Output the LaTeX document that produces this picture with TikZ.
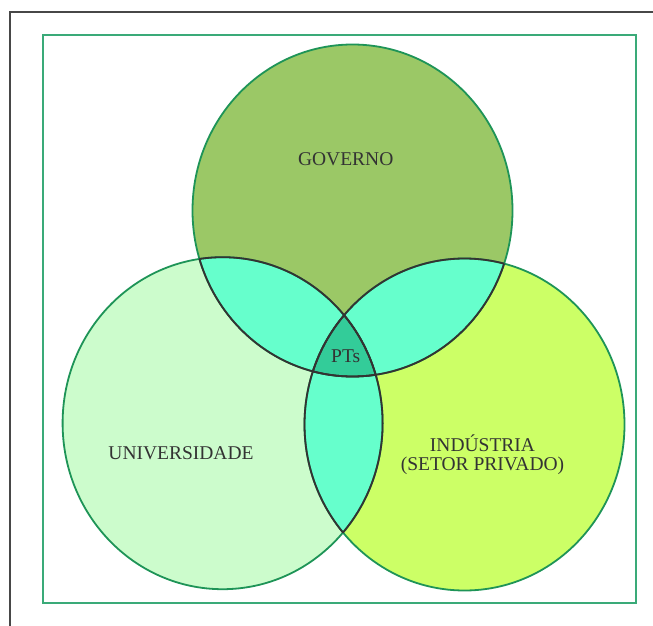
\documentclass[tikz,border=0pt]{standalone}
\usepackage{fontspec}
\setmainfont{Liberation Serif}
\usetikzlibrary{positioning, shapes.geometric}

\definecolor{govfill}{HTML}{9BC866}
\definecolor{unifill}{HTML}{CCFCCC}
\definecolor{indfill}{HTML}{CCFF66}
\definecolor{lensfill}{HTML}{66FFCC}
\definecolor{ptfill}{HTML}{33CC99}
\definecolor{rimgreen}{HTML}{1E9457}
\definecolor{framegreen}{HTML}{3AAA78}
\definecolor{inkgray}{HTML}{333333}

\begin{document}
\begin{tikzpicture}[x=1pt, y=-1pt,
        setdisc/.style={ellipse, minimum width=320pt, minimum height=332pt, inner sep=0pt},
        setname/.style={font=\fontsize{19.5}{19}\selectfont, text=inkgray, align=center, inner sep=0pt, anchor=base},
        rim/.style={line width=1.8pt}
    ]

    \useasboundingbox (0,0) rectangle (653,626);
    \clip (0,0) rectangle (653,626);

    % Frames
    \draw[inkgray!90, line width=2pt] (9.5,12.5) rectangle (700,700);
    \draw[framegreen, line width=2pt] (43,35) rectangle (636,603);

    % Sets
    \node[setdisc, fill=govfill] (gov) at (352.5,210.5) {};
    \node[setdisc, fill=unifill] (uni) at (222.6,423.2) {};
    \node[setdisc, fill=indfill] (ind) at (464.5,424.5) {};

    % Overlaps
    \begin{scope}
        \clip (gov.center) ellipse [x radius=160pt, y radius=166pt];
        \fill[lensfill] (uni.center) ellipse [x radius=160pt, y radius=166pt];
        \fill[lensfill] (ind.center) ellipse [x radius=160pt, y radius=166pt];
    \end{scope}
    \begin{scope}
        \clip (uni.center) ellipse [x radius=160pt, y radius=166pt];
        \fill[lensfill] (ind.center) ellipse [x radius=160pt, y radius=166pt];
    \end{scope}
    \begin{scope}
        \clip (gov.center) ellipse [x radius=160pt, y radius=166pt];
        \clip (uni.center) ellipse [x radius=160pt, y radius=166pt];
        \fill[ptfill] (ind.center) ellipse [x radius=160pt, y radius=166pt];
    \end{scope}

    % Outlines
    \foreach \s in {gov, uni, ind}
        \draw[rimgreen, rim] (\s.center) ellipse [x radius=160pt, y radius=166pt];
    \foreach \s/\a/\b in {gov/uni/ind, uni/gov/ind, ind/gov/uni} {
        \begin{scope}
            \clip (\a.center) ellipse [x radius=160pt, y radius=166pt];
            \draw[inkgray, rim] (\s.center) ellipse [x radius=160pt, y radius=166pt];
        \end{scope}
        \begin{scope}
            \clip (\b.center) ellipse [x radius=160pt, y radius=166pt];
            \draw[inkgray, rim] (\s.center) ellipse [x radius=160pt, y radius=166pt];
        \end{scope}
    }

    % Labels
    \node[setname] (govname) at (345.7,165.7) {GOVERNO};
    \node[setname] (uniname) at (181,459) {UNIVERSIDADE};
    \node[setname] (indname) at (482.5,470.5) {INDÚSTRIA\\(SETOR PRIVADO)};
    \node[setname] (ptname) at (345.7,362.7) {PTs};

\end{tikzpicture}
\end{document}
